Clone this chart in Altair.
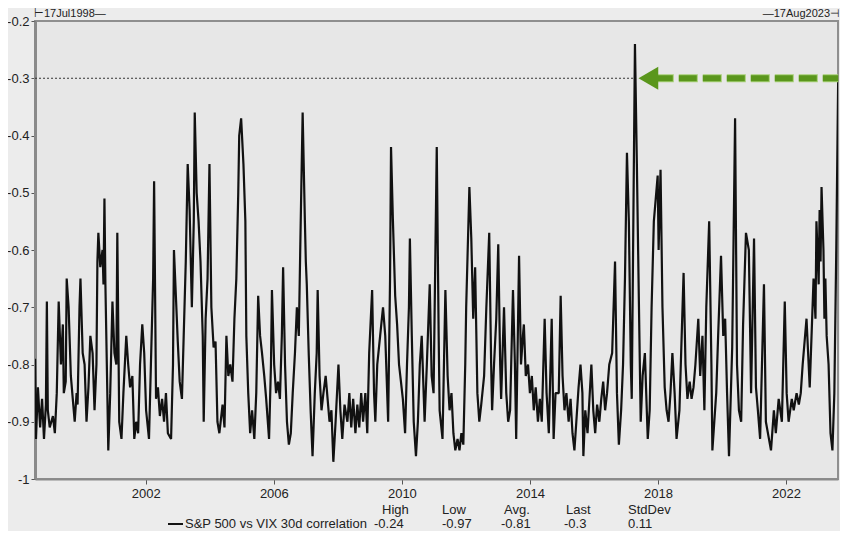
import altair as alt
import pandas as pd

FONT = "Liberation Sans, Arial, sans-serif"

# decimal-year dates and correlation values
years = [
    1998.54, 1998.57, 1998.63, 1998.70, 1998.76, 1998.82, 1998.88, 1998.91, 1998.94, 1999.00,
    1999.10, 1999.16, 1999.22, 1999.28, 1999.35, 1999.41, 1999.44, 1999.50, 1999.53, 1999.59,
    1999.66, 1999.72, 1999.78, 1999.84, 1999.87, 1999.93, 1999.96, 2000.03, 2000.09, 2000.15,
    2000.21, 2000.27, 2000.34, 2000.40, 2000.46, 2000.49, 2000.52, 2000.58, 2000.65, 2000.68,
    2000.71, 2000.74, 2000.80, 2000.83, 2000.89, 2000.96, 2001.02, 2001.08, 2001.11, 2001.17,
    2001.24, 2001.30, 2001.39, 2001.45, 2001.51, 2001.58, 2001.64, 2001.70, 2001.76, 2001.82,
    2001.89, 2001.95, 2002.01, 2002.10, 2002.16, 2002.23, 2002.26, 2002.32, 2002.38, 2002.44,
    2002.51, 2002.57, 2002.63, 2002.69, 2002.79, 2002.85, 2002.88, 2002.94, 2003.00, 2003.06,
    2003.13, 2003.19, 2003.25, 2003.31, 2003.37, 2003.44, 2003.50, 2003.53, 2003.59, 2003.65,
    2003.71, 2003.78, 2003.81, 2003.87, 2003.93, 2003.99, 2004.05, 2004.12, 2004.18, 2004.24,
    2004.30, 2004.40, 2004.46, 2004.52, 2004.58, 2004.64, 2004.71, 2004.77, 2004.83, 2004.89,
    2004.92, 2004.98, 2005.05, 2005.11, 2005.14, 2005.20, 2005.26, 2005.32, 2005.39, 2005.45,
    2005.51, 2005.57, 2005.63, 2005.70, 2005.76, 2005.85, 2005.91, 2005.94, 2006.01, 2006.07,
    2006.13, 2006.19, 2006.25, 2006.29, 2006.35, 2006.41, 2006.47, 2006.53, 2006.59, 2006.66,
    2006.72, 2006.78, 2006.84, 2006.90, 2006.97, 2007.00, 2007.03, 2007.09, 2007.15, 2007.21,
    2007.28, 2007.34, 2007.37, 2007.43, 2007.49, 2007.55, 2007.62, 2007.68, 2007.74, 2007.80,
    2007.86, 2007.93, 2008.02, 2008.08, 2008.14, 2008.21, 2008.30, 2008.36, 2008.42, 2008.48,
    2008.55, 2008.61, 2008.67, 2008.73, 2008.79, 2008.86, 2008.92, 2008.98, 2009.07, 2009.13,
    2009.17, 2009.23, 2009.32, 2009.41, 2009.48, 2009.57, 2009.63, 2009.66, 2009.72, 2009.79,
    2009.85, 2009.91, 2009.97, 2010.03, 2010.10, 2010.16, 2010.22, 2010.25, 2010.31, 2010.37,
    2010.44, 2010.50, 2010.56, 2010.62, 2010.68, 2010.71, 2010.78, 2010.87, 2010.93, 2010.99,
    2011.09, 2011.15, 2011.18, 2011.27, 2011.36, 2011.43, 2011.49, 2011.55, 2011.61, 2011.67,
    2011.74, 2011.80, 2011.86, 2011.92, 2011.98, 2012.01, 2012.11, 2012.17, 2012.23, 2012.29,
    2012.36, 2012.42, 2012.48, 2012.57, 2012.64, 2012.73, 2012.79, 2012.82, 2012.88, 2012.95,
    2013.01, 2013.07, 2013.10, 2013.19, 2013.26, 2013.32, 2013.38, 2013.47, 2013.53, 2013.57,
    2013.66, 2013.72, 2013.78, 2013.81, 2013.87, 2013.94, 2014.00, 2014.06, 2014.12, 2014.18,
    2014.25, 2014.31, 2014.37, 2014.46, 2014.52, 2014.59, 2014.68, 2014.74, 2014.80, 2014.90,
    2014.96, 2015.02, 2015.08, 2015.14, 2015.21, 2015.27, 2015.33, 2015.39, 2015.45, 2015.52,
    2015.58, 2015.64, 2015.67, 2015.73, 2015.80, 2015.92, 2015.98, 2016.04, 2016.10, 2016.17,
    2016.23, 2016.29, 2016.35, 2016.41, 2016.48, 2016.57, 2016.66, 2016.72, 2016.78, 2016.85,
    2016.91, 2016.97, 2017.03, 2017.09, 2017.15, 2017.18, 2017.28, 2017.34, 2017.40, 2017.46,
    2017.52, 2017.59, 2017.68, 2017.74, 2017.80, 2017.87, 2017.99, 2018.02, 2018.08, 2018.14,
    2018.21, 2018.27, 2018.33, 2018.39, 2018.45, 2018.52, 2018.58, 2018.67, 2018.74, 2018.80,
    2018.86, 2018.92, 2018.99, 2019.05, 2019.11, 2019.17, 2019.26, 2019.32, 2019.39, 2019.45,
    2019.51, 2019.60, 2019.67, 2019.70, 2019.82, 2019.88, 2019.97, 2020.04, 2020.10, 2020.16,
    2020.22, 2020.32, 2020.41, 2020.47, 2020.53, 2020.60, 2020.66, 2020.75, 2020.84, 2020.91,
    2021.00, 2021.06, 2021.12, 2021.19, 2021.31, 2021.37, 2021.53, 2021.62, 2021.68, 2021.77,
    2021.87, 2021.96, 2022.02, 2022.08, 2022.18, 2022.24, 2022.33, 2022.40, 2022.46, 2022.52,
    2022.64, 2022.74, 2022.86, 2022.92, 2022.95, 2023.02, 2023.05, 2023.08, 2023.11, 2023.17,
    2023.20, 2023.23, 2023.27, 2023.33, 2023.39, 2023.45, 2023.51, 2023.57, 2023.63,
]
values = [
    -0.79, -0.93, -0.84, -0.91, -0.86, -0.93, -0.87, -0.69, -0.88, -0.91,
    -0.89, -0.92, -0.85, -0.69, -0.80, -0.73, -0.85, -0.83, -0.65, -0.70,
    -0.82, -0.86, -0.90, -0.85, -0.87, -0.70, -0.65, -0.78, -0.80, -0.90,
    -0.84, -0.75, -0.78, -0.88, -0.80, -0.62, -0.57, -0.63, -0.60, -0.66,
    -0.51, -0.66, -0.85, -0.95, -0.85, -0.69, -0.78, -0.80, -0.57, -0.90,
    -0.93, -0.85, -0.75, -0.80, -0.84, -0.82, -0.93, -0.90, -0.92, -0.80,
    -0.73, -0.78, -0.88, -0.93, -0.80, -0.65, -0.48, -0.86, -0.84, -0.89,
    -0.86, -0.90, -0.85, -0.92, -0.93, -0.80, -0.60, -0.68, -0.76, -0.83,
    -0.86, -0.74, -0.62, -0.45, -0.53, -0.70, -0.55, -0.36, -0.50, -0.55,
    -0.62, -0.75, -0.90, -0.72, -0.65, -0.45, -0.70, -0.77, -0.76, -0.90,
    -0.92, -0.87, -0.91, -0.75, -0.82, -0.80, -0.83, -0.72, -0.65, -0.50,
    -0.40, -0.37, -0.45, -0.55, -0.75, -0.85, -0.92, -0.88, -0.93, -0.85,
    -0.68, -0.75, -0.78, -0.82, -0.86, -0.93, -0.80, -0.67, -0.80, -0.85,
    -0.83, -0.86, -0.75, -0.63, -0.80, -0.90, -0.94, -0.92, -0.85, -0.78,
    -0.70, -0.75, -0.55, -0.36, -0.55, -0.62, -0.66, -0.78, -0.88, -0.96,
    -0.85, -0.78, -0.67, -0.82, -0.88, -0.85, -0.82, -0.86, -0.90, -0.88,
    -0.97, -0.90, -0.80, -0.88, -0.93, -0.87, -0.90, -0.85, -0.91, -0.86,
    -0.92, -0.87, -0.91, -0.85, -0.90, -0.85, -0.92, -0.78, -0.67, -0.85,
    -0.90, -0.80, -0.75, -0.70, -0.75, -0.90, -0.65, -0.42, -0.55, -0.68,
    -0.73, -0.80, -0.83, -0.86, -0.92, -0.80, -0.70, -0.58, -0.75, -0.90,
    -0.96, -0.90, -0.80, -0.75, -0.85, -0.90, -0.80, -0.66, -0.82, -0.85,
    -0.42, -0.75, -0.88, -0.93, -0.67, -0.82, -0.88, -0.85, -0.92, -0.95,
    -0.93, -0.95, -0.92, -0.94, -0.80, -0.70, -0.49, -0.58, -0.72, -0.63,
    -0.85, -0.90, -0.87, -0.82, -0.70, -0.57, -0.80, -0.88, -0.80, -0.72,
    -0.59, -0.80, -0.86, -0.70, -0.85, -0.90, -0.88, -0.67, -0.80, -0.93,
    -0.61, -0.80, -0.75, -0.73, -0.82, -0.80, -0.85, -0.82, -0.88, -0.84,
    -0.90, -0.86, -0.90, -0.72, -0.85, -0.92, -0.72, -0.93, -0.85, -0.85,
    -0.68, -0.82, -0.88, -0.85, -0.90, -0.86, -0.92, -0.95, -0.90, -0.84,
    -0.80, -0.85, -0.96, -0.88, -0.92, -0.80, -0.88, -0.92, -0.87, -0.90,
    -0.86, -0.83, -0.88, -0.85, -0.80, -0.78, -0.62, -0.85, -0.94, -0.88,
    -0.80, -0.65, -0.43, -0.55, -0.80, -0.86, -0.24, -0.45, -0.68, -0.90,
    -0.82, -0.78, -0.93, -0.88, -0.70, -0.55, -0.47, -0.60, -0.46, -0.70,
    -0.84, -0.88, -0.90, -0.85, -0.78, -0.85, -0.93, -0.88, -0.75, -0.64,
    -0.80, -0.86, -0.83, -0.86, -0.84, -0.80, -0.72, -0.82, -0.75, -0.88,
    -0.70, -0.55, -0.80, -0.95, -0.85, -0.75, -0.61, -0.75, -0.72, -0.85,
    -0.96, -0.77, -0.37, -0.80, -0.88, -0.90, -0.73, -0.57, -0.60, -0.85,
    -0.58, -0.84, -0.88, -0.93, -0.66, -0.90, -0.95, -0.88, -0.92, -0.86,
    -0.90, -0.69, -0.85, -0.90, -0.86, -0.88, -0.85, -0.87, -0.85, -0.80,
    -0.72, -0.84, -0.65, -0.72, -0.55, -0.66, -0.53, -0.62, -0.49, -0.60,
    -0.72, -0.65, -0.75, -0.80, -0.92, -0.95, -0.85, -0.60, -0.30,
]

tick_years = [2002, 2006, 2010, 2014, 2018, 2022]
y_ticks = [-1.0, -0.95, -0.9, -0.85, -0.8, -0.75, -0.7, -0.65, -0.6, -0.55,
           -0.5, -0.45, -0.4, -0.35, -0.3, -0.25, -0.2]

series_name = "S&P 500 vs VIX 30d correlation"
stat_names = ["High", "Low", "Avg.", "Last", "StdDev"]
stat_values = ["-0.24", "-0.97", "-0.81", "-0.3", "0.11"]
start_label = "\u22a217Jul1998\u2014"
end_label = "\u201417Aug2023\u22a3"

ref_level = -0.3
ref_start = 1998.54
peak_year = 2017.28
arrow_head_year = 2017.70
arrow_line_start = 2017.90
arrow_line_end = 2023.63


def dec_to_ts(y):
    base = pd.Timestamp(year=int(y), month=1, day=1)
    return base + pd.Timedelta(days=(y - int(y)) * 365.25)


df = pd.DataFrame({"date": [dec_to_ts(y) for y in years], "value": values})

xscale = alt.Scale(domain=[alt.DateTime(year=1998, month=7, date=17),
                           alt.DateTime(year=2023, month=8, date=17)])
yscale = alt.Scale(domain=[-1, -0.2], nice=False, zero=False)

x_axis = alt.Axis(values=[alt.DateTime(year=y, month=1, date=1) for y in tick_years],
                  format="%Y", title=None, tickSize=5, labelPadding=3,
                  labelFontSize=13, domainWidth=2)
y_axis = alt.Axis(values=y_ticks, title=None, tickSize=4, labelPadding=2,
                  labelExpr="toString(datum.value)", labelFontSize=13, domainWidth=3)

line = alt.Chart(df).mark_line(color="#111111", strokeWidth=2.2, strokeJoin="bevel",
                               clip=True).encode(
    x=alt.X("date:T", scale=xscale, axis=x_axis),
    y=alt.Y("value:Q", scale=yscale, axis=y_axis),
)

ref_df = pd.DataFrame({"x": [dec_to_ts(ref_start)], "x2": [dec_to_ts(peak_year)], "y": [ref_level]})
ref_line = alt.Chart(ref_df).mark_rule(color="#333333", strokeWidth=1.2, strokeDash=[2, 2]).encode(
    x=alt.X("x:T", scale=xscale), x2="x2:T", y=alt.Y("y:Q", scale=yscale))

arr_df = pd.DataFrame({"x": [dec_to_ts(arrow_line_start)], "x2": [dec_to_ts(arrow_line_end)], "y": [ref_level]})
green = "#5a961c"
arrow_halo = alt.Chart(arr_df).mark_rule(color="#a6cf74", strokeWidth=8, strokeDash=[19, 5]).encode(
    x=alt.X("x:T", scale=xscale), x2="x2:T", y=alt.Y("y:Q", scale=yscale))
arrow_line = alt.Chart(arr_df).mark_rule(color=green, strokeWidth=6, strokeDash=[18, 6]).encode(
    x=alt.X("x:T", scale=xscale), x2="x2:T", y=alt.Y("y:Q", scale=yscale))
head_df = pd.DataFrame({"x": [dec_to_ts(arrow_head_year)], "y": [ref_level]})
arrow_head = alt.Chart(head_df).mark_point(shape="triangle-left", filled=True, size=520,
                                           color=green, opacity=1).encode(
    x=alt.X("x:T", scale=xscale), y=alt.Y("y:Q", scale=yscale))


def txt(label, x, y, align="left", size=13):
    return alt.Chart(pd.DataFrame({"t": [label]})).mark_text(
        align=align, baseline="middle", fontSize=size, font=FONT, color="#222222"
    ).encode(x=alt.value(x), y=alt.value(y), text="t:N")


layers = [line, ref_line, arrow_halo, arrow_line, arrow_head,
          txt(start_label, -1, -7, size=11), txt(end_label, 805, -7, align="right", size=11),
          txt(series_name, 150, 503)]

legend_swatch = alt.Chart(pd.DataFrame({"a": [0]})).mark_rule(color="#141414", strokeWidth=2).encode(
    x=alt.value(133), x2=alt.value(148), y=alt.value(503))
layers.append(legend_swatch)

header_x = [347, 407, 469, 531, 593]
value_x = [339, 407, 466, 529, 593]
for name, hx in zip(stat_names, header_x):
    layers.append(txt(name, hx, 489))
for val, vx in zip(stat_values, value_x):
    layers.append(txt(val, vx, 503))

chart = alt.layer(*layers).properties(
    width=803, height=458,
    background="#ececec",
    padding={"left": 27, "top": 13, "right": 2, "bottom": 52},
    autosize=alt.AutoSizeParams(type="none"),
).configure_view(
    fill="#e7e7e7", stroke="#8f8f8f", strokeWidth=2
).configure_axis(
    labelFont=FONT, labelColor="#222222", domainColor="#8a8a8a",
    tickColor="#555555", grid=False
)

chart.save("out.html", embed_options={"renderer": "svg", "actions": False})
